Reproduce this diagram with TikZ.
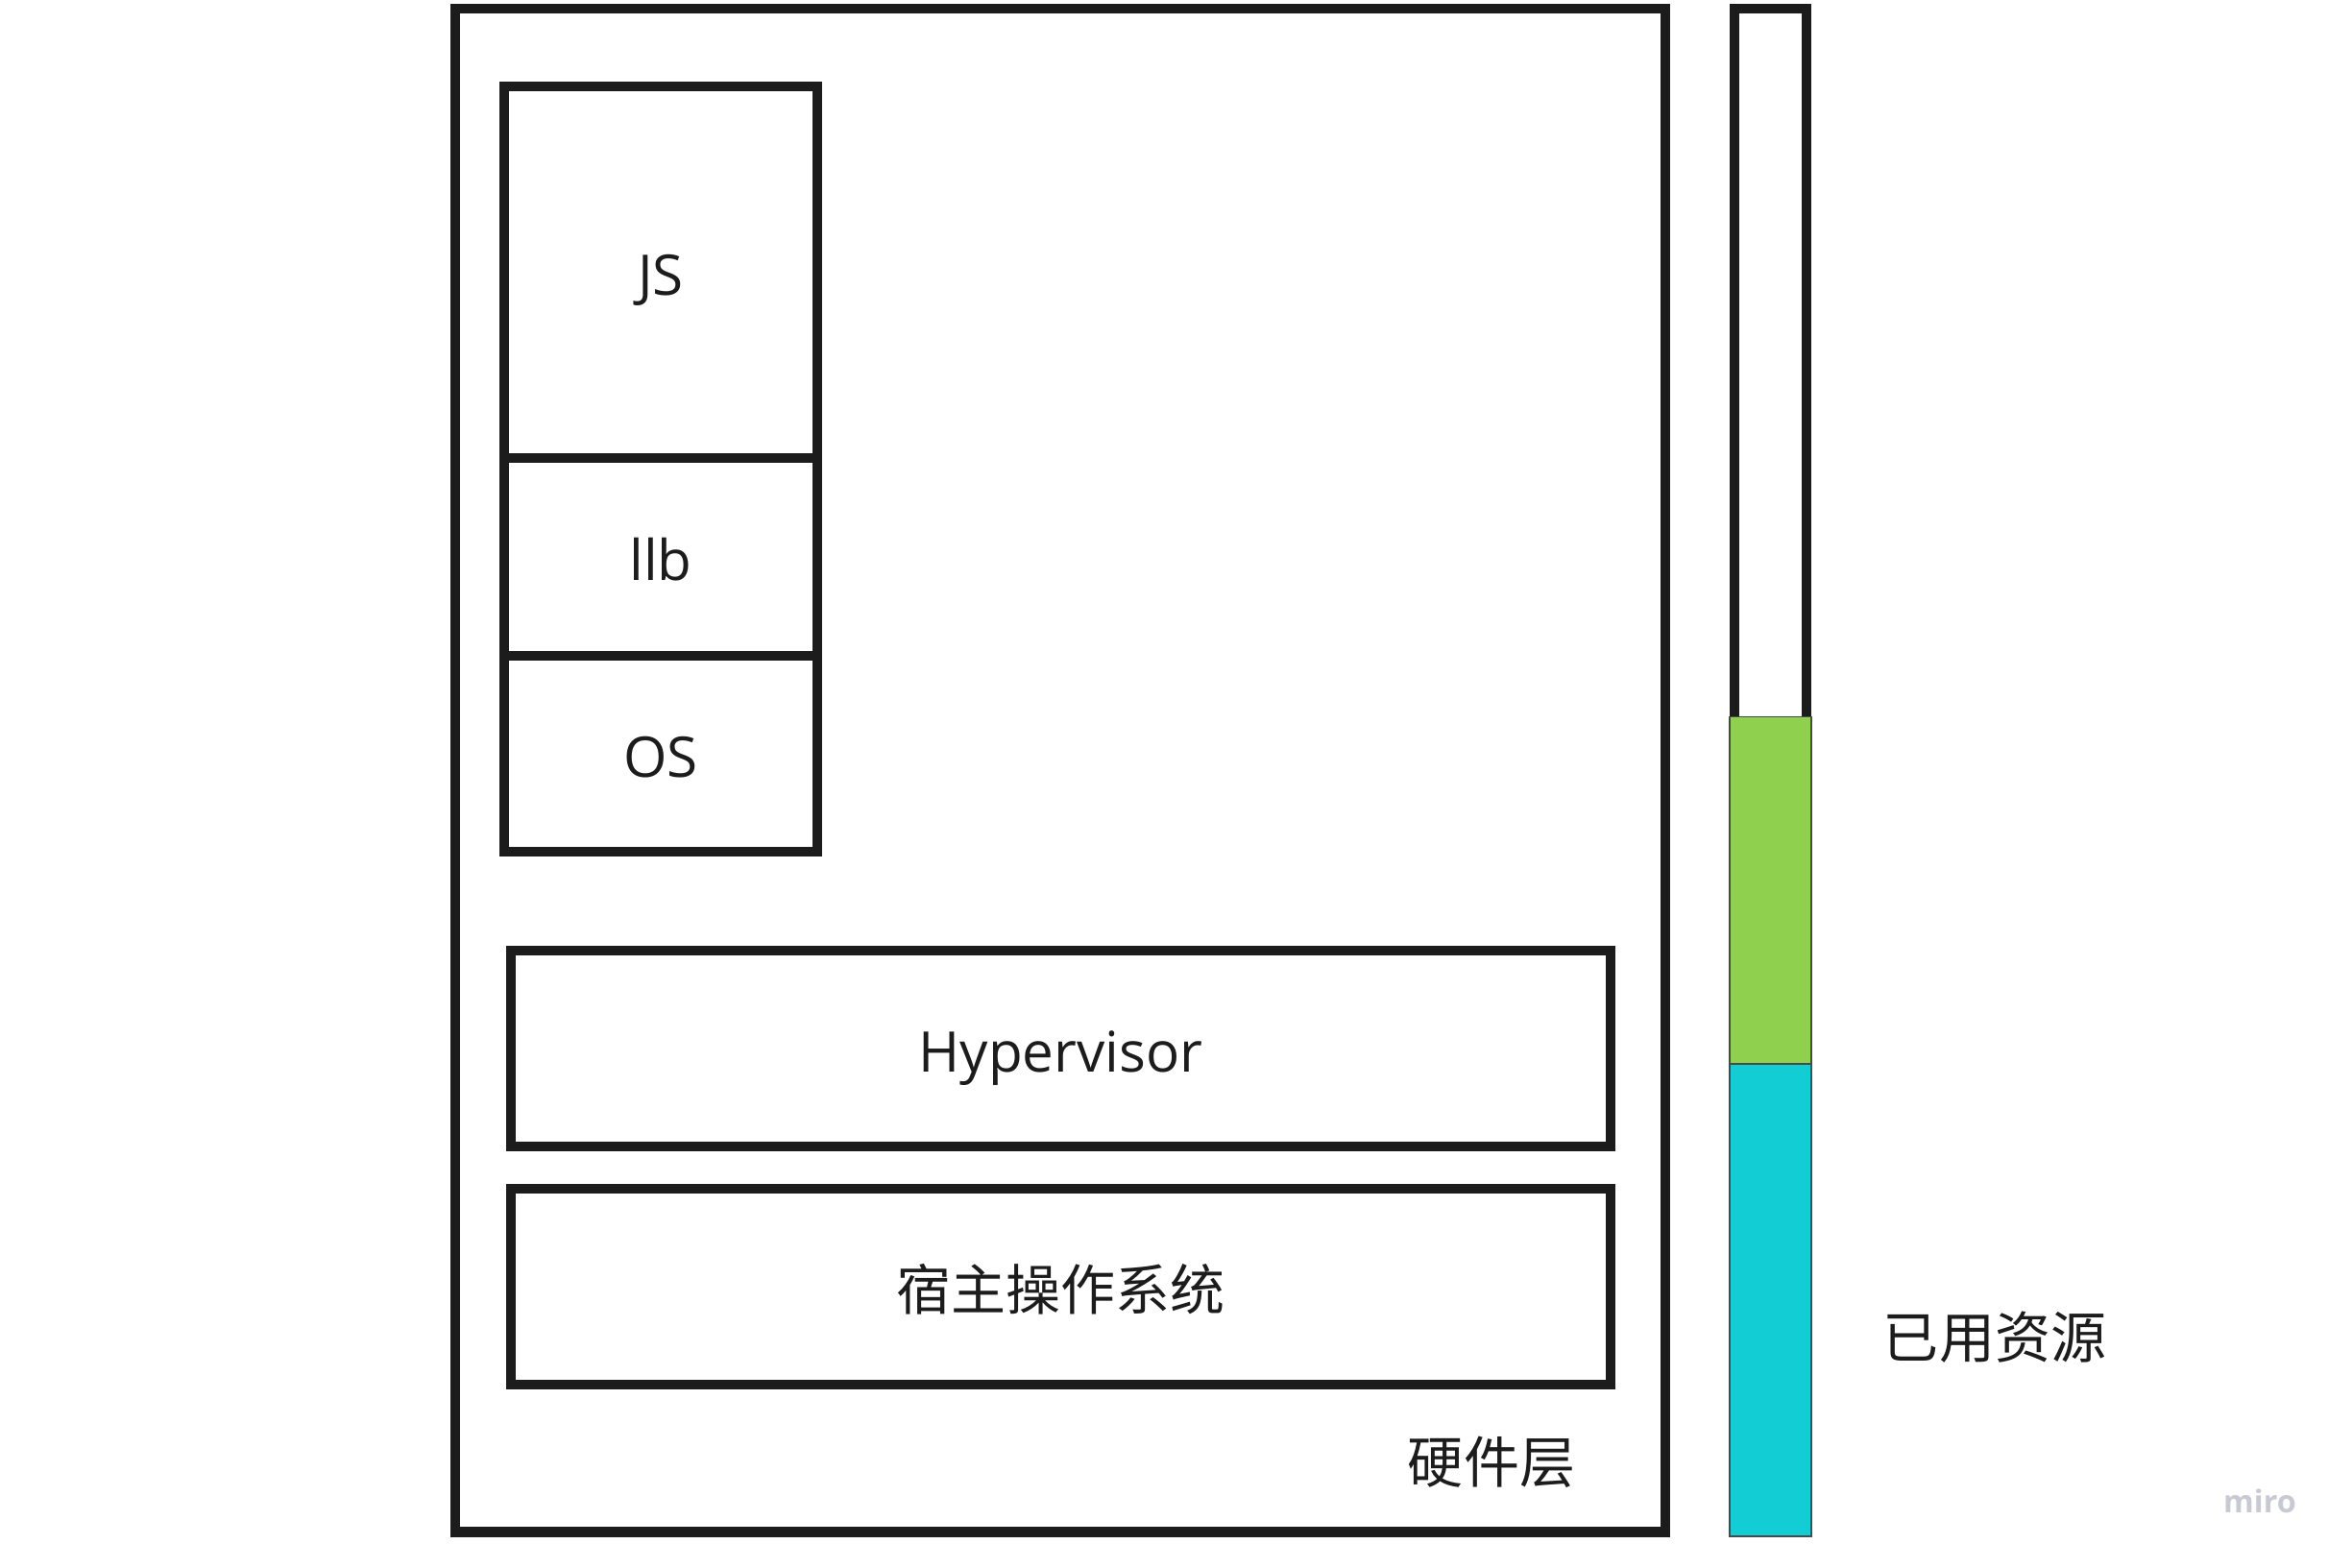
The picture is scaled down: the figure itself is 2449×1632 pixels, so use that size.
\documentclass[tikz,border=0pt]{standalone}
\usepackage{fontspec}
\setmainfont{Open Sans}
\newfontfamily\cjk{Noto Sans CJK SC}
\usetikzlibrary{positioning}
\definecolor{ink}{HTML}{1C1C1C}
\definecolor{usedgreen}{HTML}{8FD14F}
\definecolor{usedcyan}{HTML}{12CDD4}
\definecolor{mirogray}{HTML}{C8C9D2}

\begin{document}
\begin{tikzpicture}[x=0.01cm, y=-0.01cm, node distance=0cm,
  every node/.style={inner sep=0pt, outer sep=0pt, text=ink},
  layer/.style={draw=ink, line width=2.85pt, text height=0.48cm, text depth=0pt,
    font=\fontsize{16.6}{20}\selectfont},
  cjklabel/.style={font=\cjk\fontsize{16.5}{20}\selectfont},
  meter/.style={draw=ink!80, line width=0.4pt, minimum width=0.85cm}]
\useasboundingbox (0,0) rectangle (2449,1632);
% hardware and the stack on it
\node[layer, minimum width=12.6cm, minimum height=15.86cm] (hw) at (1104,802) {};
\node[layer, minimum width=3.26cm, minimum height=3.87cm] (js) at (688,283.5) {JS};
\node[layer, minimum width=3.26cm, minimum height=2.06cm, below=of js] (lib) {llb};
\node[layer, minimum width=3.26cm, minimum height=2.04cm, below=of lib] (os) {OS};
\node[layer, minimum width=11.45cm, minimum height=2.04cm] (hyp) at (1104.5,1092) {Hypervisor};
\node[layer, font=\cjk\fontsize{16.2}{20}\selectfont, minimum width=11.45cm, minimum height=2.04cm,
  below=0.44cm of hyp] (host) {宿主操作系统};
\node[cjklabel] (hwlabel) at (1553,1523) {硬件层};
% resource bar
\node[layer, fill=white, minimum width=0.75cm, minimum height=7.43cm] (free) at (1843.5,380.5) {};
\node[meter, fill=usedcyan, minimum height=4.92cm] (cyanpart) at (1843.5,1354) {};
\node[meter, fill=usedgreen, minimum height=3.61cm, above=of cyanpart] (greenpart) {};
\node[cjklabel] (usedlabel) at (2077,1393) {已用资源};
\node[text=mirogray, font=\fontsize{9.2}{11}\selectfont\bfseries] (miro) at (2353,1563) {miro};
\end{tikzpicture}
\end{document}
